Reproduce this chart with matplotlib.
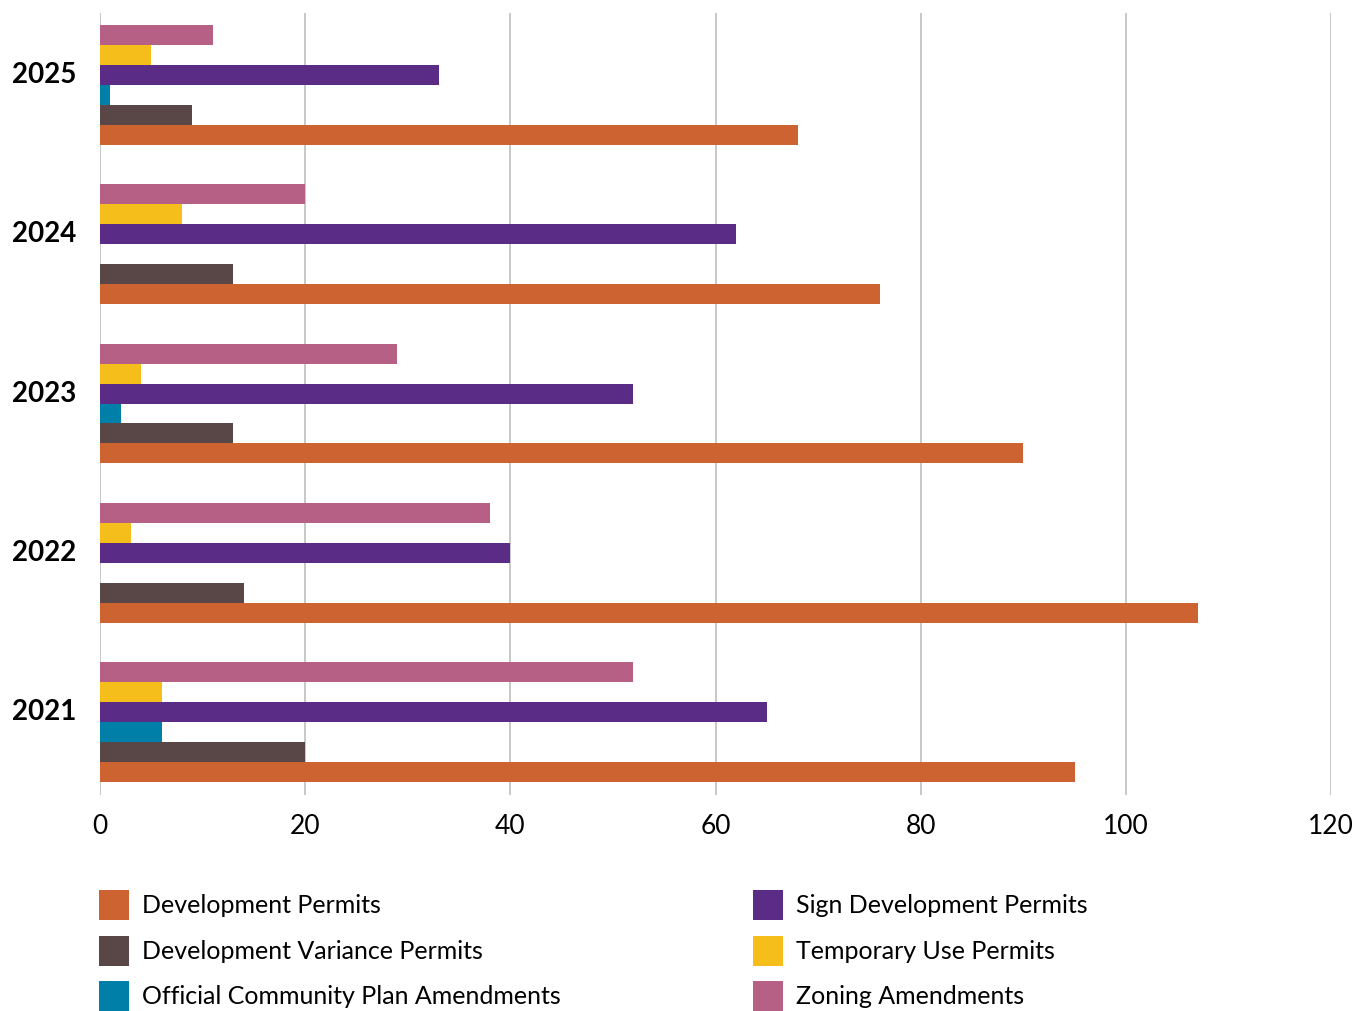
import matplotlib
matplotlib.use("Agg")
import matplotlib.pyplot as plt
import matplotlib.transforms as mtransforms
from matplotlib.patches import Patch
import numpy as np

plt.rcParams['font.family'] = ['Lato', 'DejaVu Sans']

years = ["2021", "2022", "2023", "2024", "2025"]
series_names = [
    "Development Permits",
    "Development Variance Permits",
    "Official Community Plan Amendments",
    "Sign Development Permits",
    "Temporary Use Permits",
    "Zoning Amendments",
]
development_permits = [95, 107, 90, 76, 68]
development_variance = [20, 14, 13, 13, 9]
ocp_amendments = [6, 0, 2, 0, 1]
sign_development = [65, 40, 52, 62, 33]
temporary_use = [6, 3, 4, 8, 5]
zoning_amendments = [52, 38, 29, 20, 11]
colors = ["#CC6330", "#594646", "#0080A8", "#5B2C86", "#F5BE1A", "#B76086"]
x_ticks = [0, 20, 40, 60, 80, 100, 120]

series = [development_permits, development_variance, ocp_amendments,
          sign_development, temporary_use, zoning_amendments]

fig = plt.figure(figsize=(13.56, 10.11), dpi=100)
ax = fig.add_axes([100/1356, 1 - 795/1011, 1231/1356, 782/1011])

h = 20/159.5
y = np.arange(len(years))
for i, (vals, c) in enumerate(zip(series, colors)):
    ax.barh(y + (i - 2.5) * h, vals, height=h, color=c, zorder=3, linewidth=0)

ax.set_xlim(0, 120)
ax.set_ylim(-0.376 - 13/159.5, 4 + 0.376 + 12/159.5)
ax.set_xticks(x_ticks)
ax.set_xticklabels([str(t) for t in x_ticks], fontsize=19)
ax.tick_params(axis='x', length=0, pad=14)
ax.set_yticks([])
for s in ax.spines.values():
    s.set_visible(False)
ax.grid(axis='x', color='#C4C4C4', linewidth=1.3, zorder=0)
ax.set_axisbelow(True)

off = mtransforms.ScaledTranslation(-24/100, 10/100, fig.dpi_scale_trans)
tr = ax.get_yaxis_transform() + off
for yi, lab in zip(y, years):
    ax.text(0, yi, lab, transform=tr, ha='right', va='center',
            fontsize=20, fontweight='bold', color='black')

fs = 18
fs_px = fs * 100 / 72
hh = (30 - 0.245 * fs_px) / (0.65 * fs_px)
handles = [Patch(facecolor=c, edgecolor='none', label=n) for c, n in zip(colors, series_names)]
common = dict(frameon=False, fontsize=fs, handlelength=30 / fs_px, handleheight=hh,
              handletextpad=13 / fs_px, labelspacing=15.5 / fs_px,
              borderpad=0, borderaxespad=0)
leg1 = fig.legend(handles=handles[:3], loc='upper left',
                  bbox_to_anchor=(99/1356, 1 - 890/1011), **common)
leg2 = fig.legend(handles=handles[3:], loc='upper left',
                  bbox_to_anchor=(753/1356, 1 - 890/1011), **common)

fig.savefig("out.png", dpi=100)
